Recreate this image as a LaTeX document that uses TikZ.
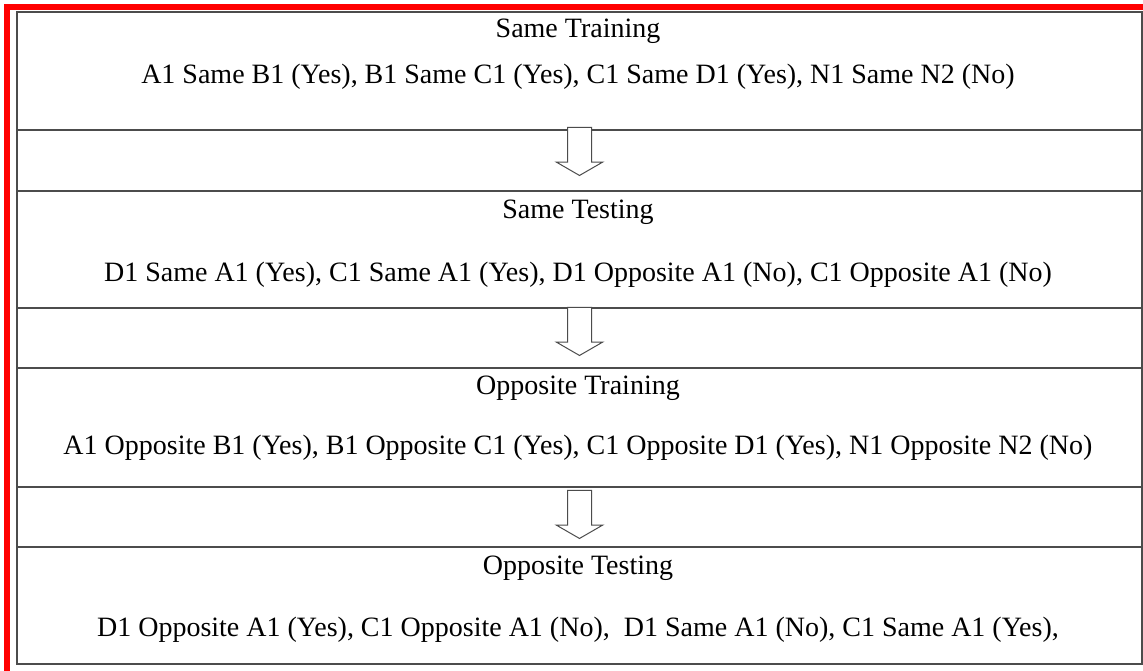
\documentclass[tikz,border=0pt]{standalone}
\usepackage{fontspec}
\setmainfont{Liberation Serif}
\usetikzlibrary{positioning,shapes.arrows}

\begin{document}
\begin{tikzpicture}[x=1pt,y=-1pt,
    stage/.style={rectangle,draw=black!70,line width=1.3pt,minimum width=1125pt,inner sep=0pt},
    heading/.style={font=\fontsize{28}{32}\selectfont,inner sep=0pt},
    flow/.style={single arrow,draw=black!70,fill=white,line width=1pt,shape border rotate=270,
        minimum height=48pt,inner sep=11.5pt,single arrow head extend=11pt,
        single arrow tip angle=120,single arrow head indent=0pt}
    ]
    \useasboundingbox (0,0) rectangle (1143,670);
    \fill[white] (0,0) rectangle (1143,670);

    % the four stages and the gaps between them
    \node[stage,minimum height=118pt] (sameTrain) at (579.5,71) {};
    \node[stage,minimum height=61pt] (gapA) at (579.5,160.5) {};
    \node[stage,minimum height=117pt] (sameTest) at (579.5,249.5) {};
    \node[stage,minimum height=60pt] (gapB) at (579.5,338) {};
    \node[stage,minimum height=119pt] (oppTrain) at (579.5,427.5) {};
    \node[stage,minimum height=60pt] (gapC) at (579.5,517) {};
    \node[stage,minimum height=117pt] (oppTest) at (579.5,605.5) {};

    \node[heading] (sameTrainHead) at (578,31) {Same Training};
    \node[heading] (sameTrainBody) at (578,77) {A1 Same B1 (Yes), B1 Same C1 (Yes), C1 Same D1 (Yes), N1 Same N2 (No)};
    \node[heading] (sameTestHead) at (578,212) {Same Testing};
    \node[heading] (sameTestBody) at (578,275) {D1 Same A1 (Yes), C1 Same A1 (Yes), D1 Opposite A1 (No), C1 Opposite A1 (No)};
    \node[heading] (oppTrainHead) at (578,388) {Opposite Training};
    \node[heading] (oppTrainBody) at (578,448) {A1 Opposite B1 (Yes), B1 Opposite C1 (Yes), C1 Opposite D1 (Yes), N1 Opposite N2 (No)};
    \node[heading] (oppTestHead) at (578,568) {Opposite Testing};
    \node[heading] (oppTestBody) at (578,630) {D1 Opposite A1 (Yes), C1 Opposite A1 (No), \ D1 Same A1 (No), C1 Same A1 (Yes),};

    % block arrows from one stage to the next
    \foreach \a/\y in {A/148,B/328,C/511}
        \node[flow] (arrow\a) at (579.5,\y) {};

    % red frame, left and top sides only show
    \draw[red,line width=6.5pt] (6.75,673.5) -- (6.75,7) -- (1143,7);
\end{tikzpicture}
\end{document}
